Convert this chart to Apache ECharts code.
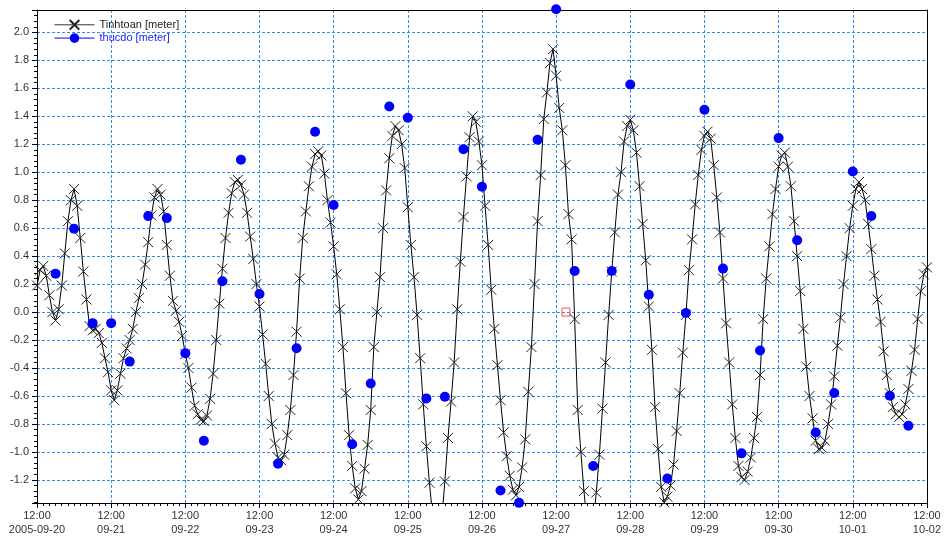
<!DOCTYPE html>
<html>
<head>
<meta charset="utf-8">
<title>Tinhtoan / thucdo</title>
<script src="https://cdn.jsdelivr.net/npm/echarts@6/dist/echarts.min.js"></script>
<style>
html, body { margin: 0; padding: 0; background: #fff; }
#chart { width: 944px; height: 539px; }
</style>
</head>
<body>
<div id="chart"></div>
<script>
// time axis counted in hours from 2005-09-20 12:00
var dayLabels = ['2005-09-20', '09-21', '09-22', '09-23', '09-24', '09-25', '09-26',
    '09-27', '09-28', '09-29', '09-30', '10-01', '10-02'];

// computed water level, one value per hour (one row per day)
var tinhtoan = [
    0.19, 0.30, 0.33, 0.26, 0.12, 0.00, -0.06, 0.02, 0.19, 0.42, 0.65, 0.80, 0.88, 0.76, 0.53, 0.29, 0.09, -0.10, -0.13, -0.12, -0.15, -0.22, -0.33, -0.43,
    -0.56, -0.63, -0.56, -0.44, -0.33, -0.26, -0.20, -0.12, 0.00, 0.10, 0.20, 0.34, 0.50, 0.69, 0.82, 0.88, 0.84, 0.72, 0.48, 0.26, 0.08, 0.01, -0.07, -0.17,
    -0.30, -0.40, -0.54, -0.67, -0.73, -0.77, -0.78, -0.74, -0.62, -0.44, -0.20, 0.06, 0.31, 0.53, 0.71, 0.85, 0.93, 0.945, 0.91, 0.84, 0.71, 0.54, 0.38, 0.20,
    0.04, -0.16, -0.37, -0.60, -0.80, -0.94, -1.04, -1.06, -1.02, -0.88, -0.70, -0.45, -0.14, 0.24, 0.53, 0.72, 0.90, 1.04, 1.13, 1.15, 1.12, 0.99, 0.80, 0.64,
    0.47, 0.27, 0.02, -0.25, -0.58, -0.88, -1.10, -1.26, -1.34, -1.28, -1.12, -0.95, -0.70, -0.25, 0.00, 0.25, 0.60, 0.87, 1.10, 1.26, 1.33, 1.30, 1.20, 1.03,
    0.75, 0.48, 0.25, -0.02, -0.33, -0.66, -0.96, -1.22, -1.45, -1.60, -1.62, -1.48, -1.21, -0.90, -0.64, -0.36, 0.02, 0.36, 0.68, 0.97, 1.25, 1.40, 1.36, 1.22,
    1.05, 0.76, 0.48, 0.16, -0.12, -0.38, -0.63, -0.86, -1.03, -1.17, -1.27, -1.31, -1.25, -1.11, -0.91, -0.57, -0.25, 0.20, 0.65, 0.98, 1.38, 1.57, 1.78, 1.88,
    1.69, 1.46, 1.30, 1.05, 0.70, 0.52, -0.05, -0.70, -1.00, -1.28, -1.50, -1.60, -1.52, -1.29, -1.02, -0.69, -0.36, -0.02, 0.29, 0.57, 0.84, 1.00, 1.22, 1.33,
    1.375, 1.30, 1.14, 0.90, 0.63, 0.37, 0.04, -0.27, -0.68, -0.98, -1.25, -1.36, -1.32, -1.24, -1.09, -0.85, -0.58, -0.29, -0.02, 0.30, 0.52, 0.77, 0.98, 1.16,
    1.26, 1.29, 1.24, 1.05, 0.82, 0.57, 0.24, -0.08, -0.36, -0.66, -0.90, -1.10, -1.18, -1.20, -1.14, -1.04, -0.90, -0.75, -0.45, -0.05, 0.24, 0.47, 0.70, 0.88,
    1.04, 1.12, 1.14, 1.04, 0.90, 0.65, 0.40, 0.15, -0.12, -0.39, -0.60, -0.76, -0.92, -0.98, -0.97, -0.92, -0.80, -0.66, -0.46, -0.24, -0.04, 0.20, 0.40, 0.60,
    0.76, 0.88, 0.93, 0.88, 0.80, 0.63, 0.45, 0.26, 0.09, -0.07, -0.28, -0.45, -0.58, -0.68, -0.73, -0.75, -0.73, -0.66, -0.55, -0.42, -0.27, -0.05, 0.15, 0.27,
    0.32
];
var tinhtoanStep = 1;

// observed water level, every 6 hours starting 18:00 on 09-20
var thucdo = [
    0.275, 0.596, -0.079, -0.079, -0.354, 0.687, 0.672, -0.294,
    -0.92, 0.22, 1.089, 0.13, -1.084, -0.258, 1.29, 0.766,
    -0.945, -0.51, 1.47, 1.39, -0.617, -0.605, 1.165, 0.897,
    -1.275, -1.364, 1.232, 2.165, 0.294, -1.10, 0.294, 1.627,
    0.124, -1.19, -0.007, 1.447, 0.311, -1.01, -0.275, 1.244,
    0.514, -0.861, -0.579, 1.005, 0.687, -0.598, -0.813
];
var thucdoStart = 6;
var thucdoStep = 6;

// small red cursor box
var cursorPoint = [171.2, 0];

var yMin = -1.365, yMax = 2.16;
var font = 'Liberation Sans, Arial, sans-serif';

function toPairs(values, start, step) {
    var out = [];
    for (var i = 0; i < values.length; i++) out.push([start + i * step, values[i]]);
    return out;
}

var chart = echarts.init(document.getElementById('chart'));

var gridLine = { show: true, lineStyle: { color: '#2f8cf0', type: [3, 2], width: 1 } };
var frameAxis = {
    show: true, z: 1,
    axisLine: { show: true, onZero: false, lineStyle: { color: '#000', width: 1 } },
    axisTick: { show: false }, axisLabel: { show: false }, splitLine: { show: false }
};

var option = {
    animation: false,
    backgroundColor: '#fff',
    grid: { left: 37, right: 17, top: 10, bottom: 36 },
    legend: {
        orient: 'vertical', left: 49, top: 14,
        itemWidth: 40, itemHeight: 12, itemGap: 2,
        textStyle: { fontSize: 11, fontFamily: font },
        data: [
            { name: 'Tinhtoan [meter]', textStyle: { color: '#222' },
              lineStyle: { color: '#333', width: 1 } },
            { name: 'thucdo [meter]', textStyle: { color: '#1a1aff' },
              lineStyle: { color: '#0000ff', width: 1, opacity: 1 } }
        ]
    },
    xAxis: [{
        type: 'value', min: 0, max: 288, interval: 24,
        axisLine: { onZero: false, lineStyle: { color: '#000' } },
        axisTick: { length: 5, lineStyle: { color: '#000' } },
        minorTick: { show: true, splitNumber: 12, length: 3, lineStyle: { color: '#000' } },
        axisLabel: {
            fontSize: 11, fontFamily: font, color: '#333', lineHeight: 14, margin: 6,
            formatter: function (v) {
                var d = Math.round(v / 24);
                return '12:00\n' + dayLabels[d];
            }
        },
        splitLine: gridLine
    }, Object.assign({ position: 'top', type: 'value', min: 0, max: 288 }, frameAxis)],
    yAxis: [{
        type: 'value', min: yMin, max: yMax, splitNumber: 17,
        axisLine: { show: true, onZero: false, lineStyle: { color: '#000' } },
        axisTick: { show: true, length: 5, lineStyle: { color: '#000' } },
        minorTick: { show: true, splitNumber: 5, length: 3, lineStyle: { color: '#000' } },
        axisLabel: {
            fontSize: 11, fontFamily: font, color: '#333', margin: 8,
            showMinLabel: false, showMaxLabel: false,
            formatter: function (v) { return v.toFixed(1); }
        },
        splitLine: gridLine
    }, Object.assign({ position: 'right', type: 'value', min: yMin, max: yMax }, frameAxis)],
    series: [{
        name: 'Tinhtoan [meter]',
        type: 'line',
        data: toPairs(tinhtoan, 0, tinhtoanStep),
        showAllSymbol: true,
        symbol: 'path://M0,0L10,10M10,0L0,10',
        symbolSize: 10,
        itemStyle: { color: 'rgba(0,0,0,0)', borderColor: '#222', borderWidth: 1 },
        lineStyle: { color: '#000', width: 1 },
        clip: true,
        z: 2
    }, {
        name: 'thucdo [meter]',
        type: 'line',
        data: toPairs(thucdo, thucdoStart, thucdoStep),
        showAllSymbol: true,
        symbol: 'circle',
        symbolSize: 10,
        itemStyle: { color: '#0000ff' },
        lineStyle: { color: '#0000ff', width: 1, opacity: 0 },
        clip: false,
        z: 3
    }, {
        name: 'cursor',
        type: 'scatter',
        data: [cursorPoint],
        symbol: 'rect',
        symbolSize: 8,
        itemStyle: { color: 'rgba(0,0,0,0)', borderColor: '#ff2020', borderWidth: 1 },
        z: 4
    }]
};

chart.setOption(option);
</script>
</body>
</html>
